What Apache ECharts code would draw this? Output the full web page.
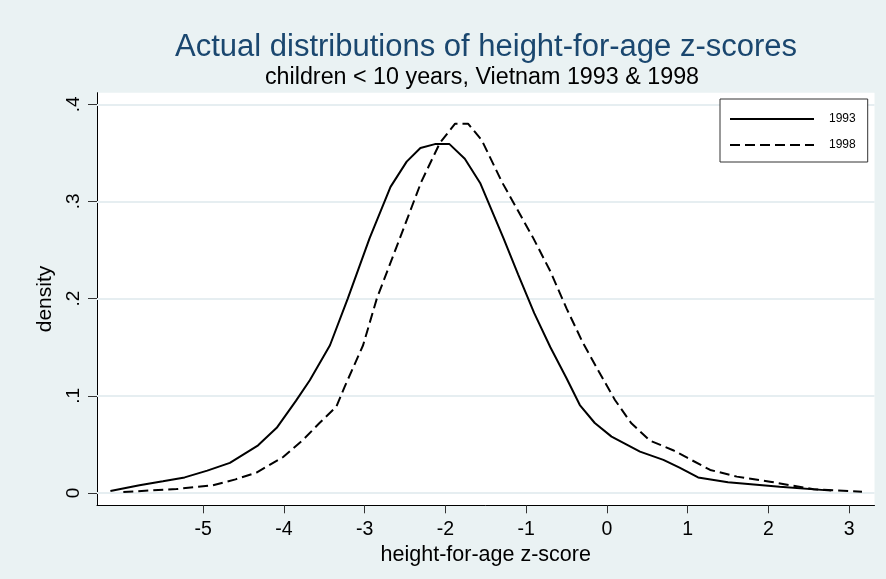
<!DOCTYPE html>
<html><head><meta charset="utf-8">
<script src="https://cdn.jsdelivr.net/npm/echarts@6/dist/echarts.min.js"></script>
<style>html,body{margin:0;padding:0;background:#EAF2F3}#c{width:886px;height:579px}</style>
</head><body><div id="c"></div><script>
const seriesNames = ['1993', '1998'];
const x1993 = [-6.15,-5.79,-5.5,-5.23,-4.95,-4.67,-4.32,-4.09,-3.85,-3.68,-3.43,-3.21,-2.94,-2.68,-2.48,-2.31,-2.13,-1.95,-1.76,-1.57,-1.28,-1.1,-0.9,-0.7,-0.5,-0.335,-0.15,0.058,0.41,0.70,0.9,1.13,1.5,2.14,2.78];
const y1993 = [0.002,0.008,0.012,0.016,0.023,0.031,0.049,0.067,0.095,0.116,0.152,0.200,0.262,0.315,0.341,0.355,0.359,0.359,0.344,0.319,0.262,0.225,0.185,0.150,0.118,0.0905,0.072,0.058,0.0425,0.034,0.026,0.016,0.011,0.0065,0.0024];
const x1998 = [-5.99,-5.33,-4.88,-4.6,-4.34,-4.01,-3.76,-3.56,-3.35,-3.25,-3.02,-2.85,-2.565,-2.3,-2.07,-1.88,-1.72,-1.55,-1.3,-0.91,-0.7,-0.5,-0.3,-0.1,0.1,0.3,0.53,0.82,1.0,1.28,1.61,2.02,2.56,3.16];
const y1998 = [0.001,0.004,0.008,0.014,0.021,0.037,0.055,0.072,0.089,0.109,0.152,0.200,0.262,0.32,0.36,0.380,0.380,0.363,0.32,0.262,0.228,0.19,0.155,0.125,0.0957,0.072,0.054,0.044,0.036,0.0237,0.0168,0.0116,0.0038,0.0013];
const xTicks = [-5,-4,-3,-2,-1,0,1,2,3];
const yTicks = [0,0.1,0.2,0.3,0.4];
const yTickLabels = ['0','.1','.2','.3','.4'];
const titleText = 'Actual distributions of height-for-age z-scores';
const subtitleText = 'children < 10 years, Vietnam 1993 & 1998';
const xName = 'height-for-age z-score';
const yName = 'density';

const FONT = '"Liberation Sans", Arial, Helvetica, sans-serif';
const pair = (xs, ys) => xs.map((x, i) => [x, ys[i]]);

const chart = echarts.init(document.getElementById('c'), null, {renderer: 'canvas'});
chart.setOption({
  backgroundColor: '#EAF2F3',
  animation: false,
  textStyle: {fontFamily: FONT},
  title: [
    {text: titleText, left: 486, top: 32, textAlign: 'center', padding: 0,
     textStyle: {fontFamily: FONT, fontSize: 31, fontWeight: 'normal', color: '#1A476F'}},
    {text: subtitleText, left: 482, top: 66, textAlign: 'center', padding: 0,
     textStyle: {fontFamily: FONT, fontSize: 23.3, fontWeight: 'normal', color: '#000'}}
  ],
  grid: {left: 97, right: 11.5, top: 92.7, bottom: 73.7, containLabel: false,
         show: true, backgroundColor: '#fff', borderWidth: 0},
  legend: {
    data: seriesNames, orient: 'vertical', left: 720, top: 99,
    backgroundColor: '#fff', borderColor: '#333', borderWidth: 1,
    padding: [14, 12, 11, 9], itemWidth: 84, itemHeight: 14, itemGap: 14,
    itemStyle: {opacity: 0},
    textStyle: {fontFamily: FONT, fontSize: 12, color: '#000', padding: [0, 0, 0, 10]}
  },
  xAxis: {
    type: 'value', min: -6.316, max: 3.315,
    axisLine: {show: true, onZero: false, lineStyle: {color: '#000', width: 1}},
    axisTick: {show: true, inside: false, length: 8, customValues: xTicks, lineStyle: {color: '#333', width: 1}},
    axisLabel: {customValues: xTicks, fontSize: 19.5, color: '#000', margin: 14, fontFamily: FONT},
    splitLine: {show: false},
    name: xName, nameLocation: 'middle', nameGap: 29,
    nameTextStyle: {fontSize: 21.5, color: '#000', fontFamily: FONT}
  },
  yAxis: {
    type: 'value', min: -0.0127, max: 0.4119,
    axisLine: {show: true, onZero: false, lineStyle: {color: '#000', width: 1}},
    axisTick: {show: true, inside: false, length: 9, customValues: yTicks, lineStyle: {color: '#333', width: 1}},
    axisLabel: {customValues: yTicks, rotate: 90, fontSize: 19, color: '#000', margin: 14, fontFamily: FONT,
      formatter: v => { const i = yTicks.findIndex(t => Math.abs(t - v) < 1e-9); return i >= 0 ? yTickLabels[i] : ''; }},
    splitLine: {show: false},
    name: yName, nameLocation: 'middle', nameGap: 38, nameRotate: 90,
    nameTextStyle: {fontSize: 21, color: '#000', fontFamily: FONT}
  },
  series: [
    {name: 'grid', type: 'line', data: [], z: 1, silent: true,
     markLine: {silent: true, symbol: ['none', 'none'], z: 1, label: {show: false},
       lineStyle: {color: '#E6EEF1', width: 2, type: 'solid'},
       data: yTicks.map(v => ({yAxis: v}))}},
    {name: seriesNames[0], type: 'line', data: pair(x1993, y1993), showSymbol: false, symbol: 'none', z: 3,
     lineStyle: {color: '#000', width: 2, type: 'solid'}, itemStyle: {color: '#000'}},
    {name: seriesNames[1], type: 'line', data: pair(x1998, y1998), showSymbol: false, symbol: 'none', z: 3,
     lineStyle: {color: '#000', width: 2, type: [10, 5]}, itemStyle: {color: '#000'}}
  ]
});
</script></body></html>
